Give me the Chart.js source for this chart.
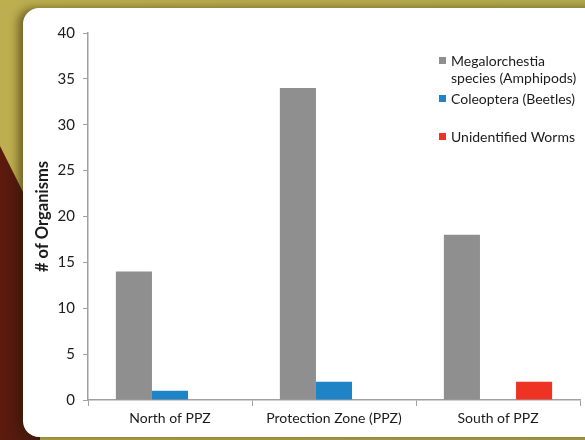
<!DOCTYPE html>
<html>
<head>
<meta charset="utf-8">
<script src="https://cdn.jsdelivr.net/npm/chart.js@4.4.1/dist/chart.umd.min.js"></script>
<style>
  html, body { margin: 0; padding: 0; }
  body {
    width: 585px; height: 440px; overflow: hidden; position: relative;
    background: linear-gradient(90deg, #bdae4f 0%, #b8ac4e 50%, #b2ab4f 100%);
  }
  #wedge {
    position: absolute; left: 0; top: 0; width: 40px; height: 440px;
    background: linear-gradient(90deg, #5c1a0d 0%, #4a1a10 100%);
    clip-path: polygon(0 146px, 40px 226px, 40px 440px, 0 440px);
  }
  #card {
    position: absolute; left: 23px; top: 8px; width: 600px; height: 429px;
    background: #fff; border-radius: 16px;
    box-shadow: -5px 0 8px rgba(40, 25, 0, 0.5);
  }
  #wrap { position: absolute; left: 0; top: 0; width: 585px; height: 440px; }
</style>
</head>
<body>
<div id="wedge"></div>
<div id="card"></div>
<div id="wrap"><canvas id="chart" width="585" height="440"></canvas></div>
<script>
const sites = ['North of PPZ', 'Protection Zone (PPZ)', 'South of PPZ'];
const amphipods = [14, 34, 18];
const beetles = [1, 2, null];
const worms = [null, null, 2];
const seriesNames = [['Megalorchestia', 'species (Amphipods)'], ['Coleoptera (Beetles)'], ['Unidentified Worms']];
const seriesColors = ['#8f8f8f', '#1f84c6', '#ee3224'];

const fontFamily = 'Lato, "Open Sans", sans-serif';
const textColor = '#1c1c1c';
const axisColor = '#a0a0a0';

// legend drawn by hand so the first name can wrap onto two lines
const sideLegend = {
    id: 'sideLegend',
    afterDraw(chart) {
        const ctx = chart.ctx;
        const rows = [[61, 78], [99], [137]];
        ctx.save();
        ctx.font = '14px ' + fontFamily;
        ctx.textBaseline = 'middle';
        ctx.textAlign = 'left';
        chart.data.datasets.forEach((ds, i) => {
            const ys = rows[i];
            ctx.fillStyle = ds.backgroundColor;
            ctx.fillRect(439, ys[0] - 4, 7, 7);
            ctx.fillStyle = textColor;
            seriesNames[i].forEach((line, j) => ctx.fillText(line, 451, ys[j]));
        });
        ctx.restore();
    }
};

new Chart(document.getElementById('chart'), {
    type: 'bar',
    data: {
        labels: sites,
        datasets: [
            { label: seriesNames[0].join(' '), data: amphipods, backgroundColor: seriesColors[0] },
            { label: seriesNames[1][0], data: beetles, backgroundColor: seriesColors[1] },
            { label: seriesNames[2][0], data: worms, backgroundColor: seriesColors[2] }
        ]
    },
    options: {
        responsive: false,
        animation: false,
        devicePixelRatio: 1,
        categoryPercentage: 0.66,
        barPercentage: 1.0,
        layout: { padding: { top: 33, right: 5, left: 0, bottom: 0 } },
        plugins: {
            legend: { display: false },
            tooltip: { enabled: false }
        },
        scales: {
            x: {
                grid: { display: true, drawOnChartArea: false, drawTicks: true, tickLength: 6, color: axisColor, offset: true },
                border: { color: axisColor, width: 1.5 },
                ticks: { color: textColor, font: { family: fontFamily, size: 14 }, padding: 4, maxRotation: 0 },
                afterFit(scale) { scale.height = 40; }
            },
            y: {
                min: 0,
                max: 40,
                ticks: { stepSize: 5, color: textColor, font: { family: fontFamily, size: 15 }, padding: 8 },
                grid: { display: true, drawOnChartArea: false, drawTicks: true, tickLength: 5, color: axisColor },
                border: { color: axisColor, width: 1.5 },
                title: {
                    display: true,
                    text: '# of Organisms',
                    color: textColor,
                    font: { family: fontFamily, size: 16.5, weight: 'bold' },
                    padding: { top: 33, bottom: 0 }
                },
                afterFit(scale) { scale.width = 88; }
            }
        }
    },
    plugins: [sideLegend]
});
</script>
</body>
</html>
